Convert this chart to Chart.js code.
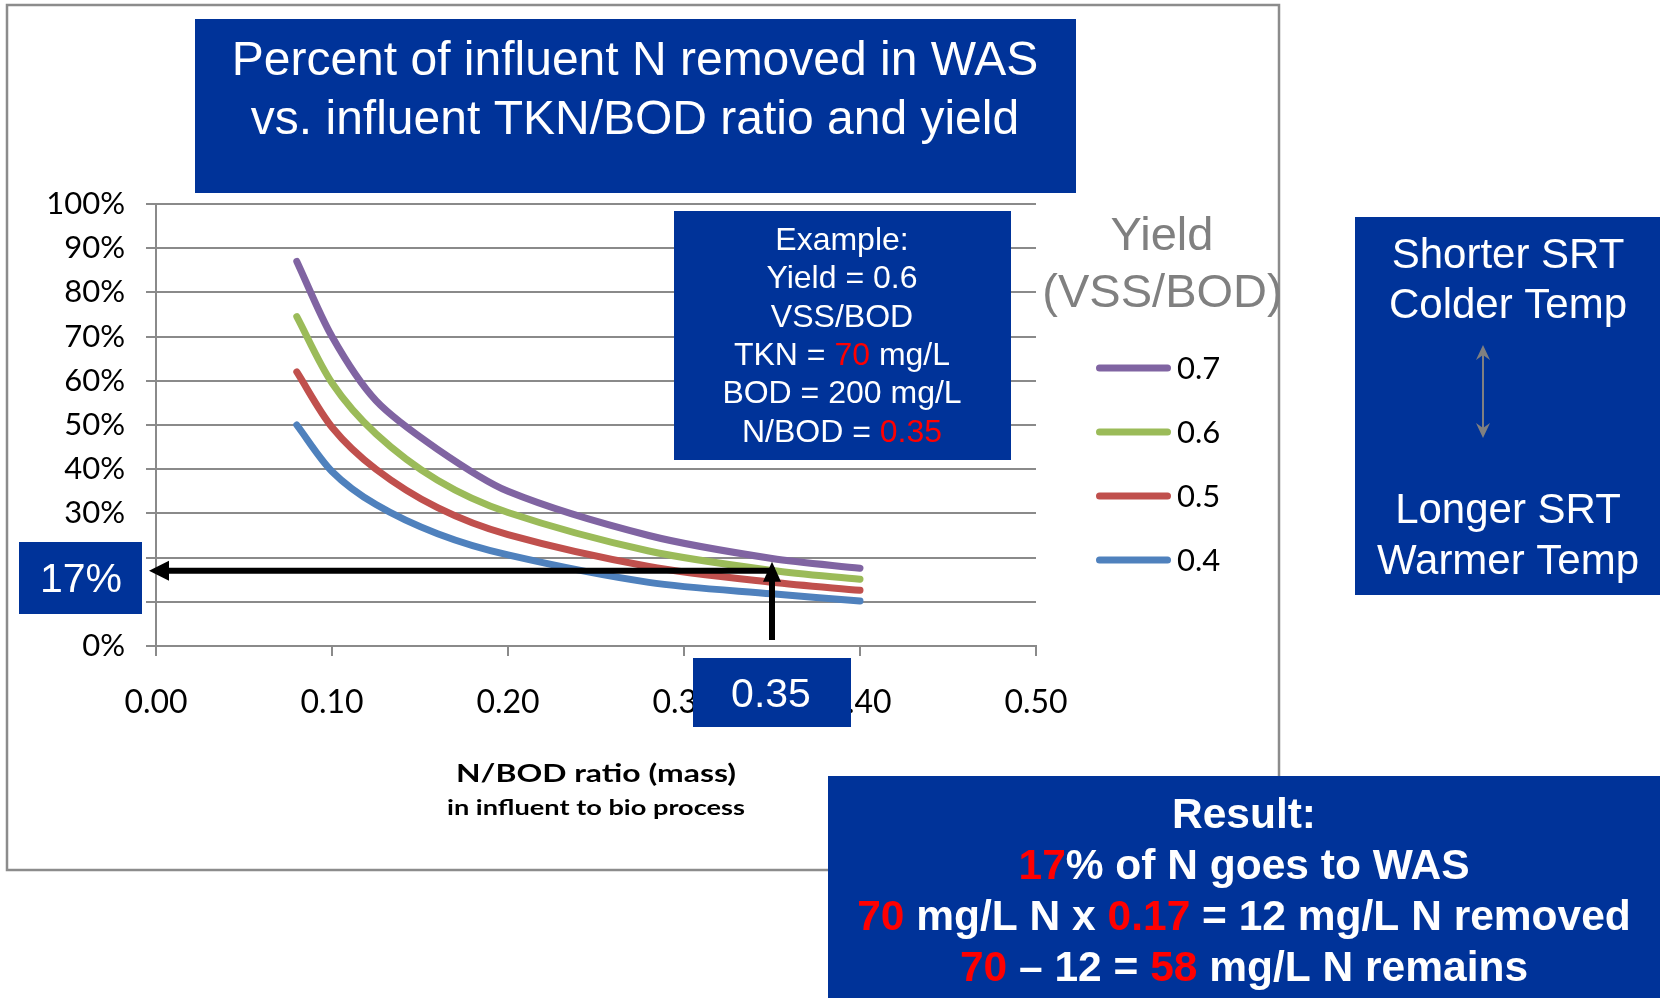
<!DOCTYPE html>
<html><head><meta charset="utf-8">
<script src="https://cdn.jsdelivr.net/npm/chart.js@4.4.1/dist/chart.umd.min.js"></script>
<style>html,body{margin:0;padding:0;background:#fff;overflow:hidden}canvas{display:block}</style>
</head><body>
<canvas id="c" width="1660" height="998"></canvas>
<script>
// ---- data ----
const nbodRatio   = [0.08, 0.10, 0.125, 0.16, 0.20, 0.28, 0.35, 0.40];
const yieldLabels = ['0.7', '0.6', '0.5', '0.4'];
const pctYield07  = [87.0, 70.0, 55.5, 44.5, 35.0, 25.0, 19.8, 17.6];
const pctYield06  = [74.5, 59.5, 48.0, 37.5, 30.2, 21.5, 17.1, 15.1];
const pctYield05  = [62.0, 49.5, 40.0, 31.3, 25.2, 18.0, 14.4, 12.6];
const pctYield04  = [50.0, 39.5, 32.0, 25.4, 20.6, 14.4, 11.8, 10.2];
const xTickValues = [0, 0.1, 0.2, 0.3, 0.4, 0.5];
const yTickValues = [0, 10, 20, 30, 40, 50, 60, 70, 80, 90, 100];
const exampleRatio = 0.35;
const examplePct   = 17;

const seriesColors = ['#8064A2', '#9BBB59', '#C0504D', '#4F81BD'];
const seriesValues = [pctYield07, pctYield06, pctYield05, pctYield04];

const BOX = '#003399', RED = '#ff0000', GRID = '#8a8a8a', WHITE = '#ffffff';
const ARIAL = '"Liberation Sans", Arial, sans-serif';
const CAL = 'Lato, "Noto Sans", sans-serif';

function richLine(ctx, segs, cx, by, font, targetW) {
  ctx.font = font;
  ctx.textAlign = 'left';
  ctx.textBaseline = 'alphabetic';
  let w = 0;
  segs.forEach(s => { w += ctx.measureText(s[0]).width; });
  const sx = targetW ? targetW / w : 1;
  ctx.save();
  ctx.translate(cx - (w * sx) / 2, by);
  ctx.scale(sx, 1);
  let x = 0;
  segs.forEach(s => {
    ctx.fillStyle = s[1];
    ctx.fillText(s[0], x, 0);
    x += ctx.measureText(s[0]).width;
  });
  ctx.restore();
}
function box(ctx, x0, y0, x1, y1) {
  ctx.fillStyle = BOX;
  ctx.fillRect(x0, y0, x1 - x0, y1 - y0);
}
function head(ctx, tx, ty, dx, dy, len, half, color) {
  const bx = tx - dx * len, by = ty - dy * len;
  const px = -dy, py = dx;
  ctx.fillStyle = color;
  ctx.beginPath();
  ctx.moveTo(tx, ty);
  ctx.lineTo(bx + px * half, by + py * half);
  ctx.lineTo(bx - px * half, by - py * half);
  ctx.closePath();
  ctx.fill();
}
function stealth(ctx, tx, ty, dir, len, half, notch, color) {
  ctx.fillStyle = color;
  ctx.beginPath();
  ctx.moveTo(tx, ty);
  ctx.lineTo(tx - half, ty - dir * len);
  ctx.lineTo(tx, ty - dir * (len - notch));
  ctx.lineTo(tx + half, ty - dir * len);
  ctx.closePath();
  ctx.fill();
}

const overlay = {
  id: 'overlay',
  beforeDraw(chart) {
    const ctx = chart.ctx;
    ctx.save();
    ctx.fillStyle = '#fff';
    ctx.fillRect(0, 0, chart.width, chart.height);
    ctx.strokeStyle = '#8c8c8c';
    ctx.lineWidth = 2.5;
    ctx.strokeRect(7, 5, 1272, 865);
    ctx.restore();
  },
  afterDraw(chart) {
    const ctx = chart.ctx;
    const xs = chart.scales.x, ys = chart.scales.y;
    ctx.save();

    // Title box
    box(ctx, 195, 19, 1076, 193);
    richLine(ctx, [['Percent of influent N removed in WAS', WHITE]], 635, 75, '48px ' + ARIAL);
    richLine(ctx, [['vs. influent TKN/BOD ratio and yield', WHITE]], 635, 133.5, '48px ' + ARIAL);

    // Example box
    box(ctx, 674, 211, 1011, 460);
    const ef = '32px ' + ARIAL, ecx = 842;
    richLine(ctx, [['Example:', WHITE]], ecx, 250, ef);
    richLine(ctx, [['Yield = 0.6', WHITE]], ecx, 288.3, ef);
    richLine(ctx, [['VSS/BOD', WHITE]], ecx, 326.6, ef);
    richLine(ctx, [['TKN = ', WHITE], ['70', RED], [' mg/L', WHITE]], ecx, 364.9, ef);
    richLine(ctx, [['BOD = 200 mg/L', WHITE]], ecx, 403.2, ef);
    richLine(ctx, [['N/BOD = ', WHITE], ['0.35', RED]], ecx, 441.5, ef);

    // Example arrows
    const ax = xs.getPixelForValue(exampleRatio);
    const ay = ys.getPixelForValue(examplePct);
    const y0 = ys.getPixelForValue(0);
    ctx.strokeStyle = '#000';
    ctx.lineWidth = 6;
    ctx.lineCap = 'butt';
    ctx.beginPath();
    ctx.moveTo(ax + 3, ay);
    ctx.lineTo(xs.left - 7 + 18, ay);
    ctx.stroke();
    head(ctx, xs.left - 7, ay, -1, 0, 20, 10, '#000');
    ctx.beginPath();
    ctx.moveTo(ax, y0 - 6);
    ctx.lineTo(ax, ay - 9 + 18);
    ctx.stroke();
    head(ctx, ax, ay - 9, 0, -1, 20, 9, '#000');

    // 17% box
    box(ctx, 19, 542, 142, 614);
    richLine(ctx, [['17%', WHITE]], 81, 592, '41px ' + ARIAL);
    // 0.35 box
    box(ctx, 693, 658, 851, 727);
    richLine(ctx, [['0.35', WHITE]], 771, 707, '41px ' + ARIAL);

    // Legend
    richLine(ctx, [['Yield', '#808080']], 1162, 250, '47px ' + ARIAL);
    richLine(ctx, [['(VSS/BOD)', '#808080']], 1162.5, 306.5, '47px ' + ARIAL);
    chart.data.datasets.forEach((ds, i) => {
      const cy = 368 + i * 64;
      ctx.strokeStyle = ds.borderColor;
      ctx.lineWidth = 7;
      ctx.lineCap = 'round';
      ctx.beginPath();
      ctx.moveTo(1099.5, cy);
      ctx.lineTo(1167.5, cy);
      ctx.stroke();
      ctx.fillStyle = '#000';
      ctx.font = '31px ' + CAL;
      ctx.textAlign = 'left';
      ctx.textBaseline = 'alphabetic';
      ctx.fillText(ds.label, 1177, cy + 11);
    });

    // Right box
    box(ctx, 1355, 217, 1660, 595);
    const rf = '42px ' + ARIAL;
    richLine(ctx, [['Shorter SRT', WHITE]], 1508, 267.5, rf);
    richLine(ctx, [['Colder Temp', WHITE]], 1508, 318, rf);
    richLine(ctx, [['Longer SRT', WHITE]], 1508, 522.5, rf);
    richLine(ctx, [['Warmer Temp', WHITE]], 1508, 573.5, rf);
    ctx.strokeStyle = '#808080';
    ctx.lineWidth = 2;
    ctx.lineCap = 'butt';
    ctx.beginPath();
    ctx.moveTo(1483, 352);
    ctx.lineTo(1483, 432);
    ctx.stroke();
    stealth(ctx, 1483, 345, -1, 15, 7, 5, '#808080');
    stealth(ctx, 1483, 438, 1, 15, 7, 5, '#808080');

    // Result box
    box(ctx, 828, 776, 1660, 998);
    const bf = 'bold 42.5px ' + ARIAL, bcx = 1244;
    richLine(ctx, [['Result:', WHITE]], bcx, 827.5, bf);
    richLine(ctx, [['17', RED], ['% of N goes to WAS', WHITE]], bcx, 878.5, bf);
    richLine(ctx, [['70', RED], [' mg/L N x ', WHITE], ['0.17', RED], [' = 12 mg/L N removed', WHITE]], bcx, 929.5, bf);
    richLine(ctx, [['70', RED], [' \u2013 12 = ', WHITE], ['58', RED], [' mg/L N remains', WHITE]], bcx, 980.5, bf);

    // Axis title (two lines)
    const tcx = (xs.left + xs.right) / 2;
    richLine(ctx, [['N/BOD ratio (mass)', '#000']], tcx, 781.5, 'bold 25px ' + CAL, 280);
    richLine(ctx, [['in influent to bio process', '#000']], tcx, 815, 'bold 20px ' + CAL, 298);

    ctx.restore();
  }
};

new Chart(document.getElementById('c'), {
  type: 'line',
  data: {
    datasets: yieldLabels.map((lab, i) => ({
      label: lab,
      data: nbodRatio.map((x, j) => ({ x: x, y: seriesValues[i][j] })),
      borderColor: seriesColors[i],
      backgroundColor: seriesColors[i],
      fill: false
    }))
  },
  options: {
    responsive: false,
    animation: false,
    devicePixelRatio: 1,
    events: [],
    layout: { padding: { left: 0, top: 204, right: 624, bottom: 252 } },
    plugins: { legend: { display: false }, tooltip: { enabled: false }, title: { display: false } },
    elements: {
      point: { radius: 0 },
      line: { borderWidth: 7, tension: 0.3, borderCapStyle: 'round', borderJoinStyle: 'round' }
    },
    scales: {
      x: {
        type: 'linear', min: 0, max: 0.5,
        afterBuildTicks: s => { s.ticks = xTickValues.map(v => ({ value: v })); },
        afterFit: s => { s.height = 100; },
        grid: { drawOnChartArea: false, drawTicks: true, tickLength: 10, color: GRID, lineWidth: 2 },
        border: { display: true, color: GRID, width: 2 },
        ticks: { callback: v => Number(v).toFixed(2), font: { family: CAL, size: 32 }, color: '#000', padding: 27, maxRotation: 0, autoSkip: false }
      },
      y: {
        type: 'linear', min: 0, max: 100,
        afterBuildTicks: s => { s.ticks = yTickValues.map(v => ({ value: v })); },
        afterFit: s => { s.width = 156; },
        grid: { color: GRID, lineWidth: 2, tickLength: 10 },
        border: { display: true, color: GRID, width: 2 },
        ticks: { callback: v => v + '%', font: { family: CAL, size: 31 }, color: '#000', padding: 21, autoSkip: false }
      }
    }
  },
  plugins: [overlay]
});
</script>
</body></html>
